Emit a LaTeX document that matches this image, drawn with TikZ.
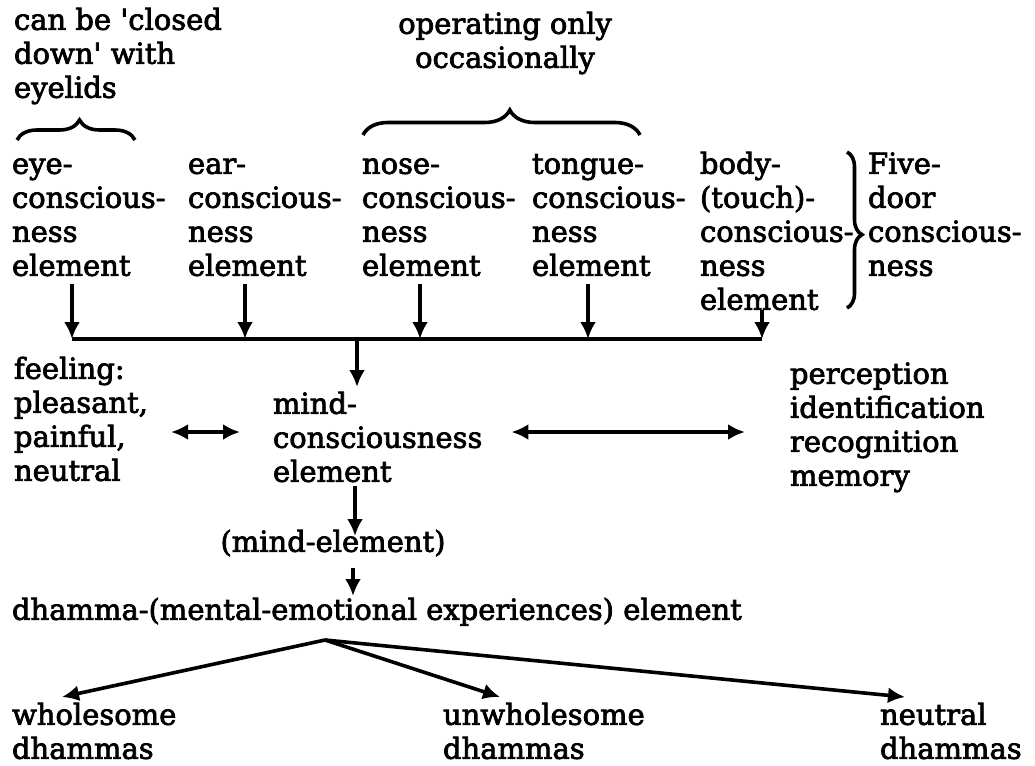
\documentclass[tikz,border=0pt]{standalone}
\usepackage{fontspec}
\setmainfont{DejaVu Serif}
\newfontfamily\diagfont{DejaVu Serif}[FakeBold=2.5]
\usetikzlibrary{arrows.meta,decorations.pathreplacing}
\begin{document}
\begin{tikzpicture}[x=1pt,y=-1pt,
  txt/.style={font=\diagfont\fontsize{29}{34}\selectfont, inner sep=0pt, outer sep=0pt, align=left, anchor=north west},
  ctxt/.style={txt, align=center, anchor=north},
  arr/.style={line width=3.6pt, -{Latex[length=17pt,width=16pt]}},
  dbl/.style={line width=3.6pt, {Latex[length=17pt,width=16pt]}-{Latex[length=17pt,width=16pt]}},
  busline/.style={line width=3.2pt},
  bracedeco/.style={line width=3.6pt, decorate, decoration={brace, amplitude=#1, aspect=0.53}}
]
\useasboundingbox (0,0) rectangle (1035,765);
\fill[white] (0,0) rectangle (1035,765);

% top annotations
\node[txt] (closed) at (14,6) {\strut can be \textquotesingle closed\\down\textquotesingle{} with\\eyelids};
\node[ctxt] (occas) at (505,10) {\strut operating only\\occasionally};
\draw[bracedeco=20] (17,140) -- (135,140);
\draw[bracedeco=25] (363,135) -- (640,135);

% five door columns
\node[txt] (eye) at (12,150) {\strut eye-\\conscious-\\ness\\element};
\node[txt] (ear) at (188,150) {\strut ear-\\conscious-\\ness\\element};
\node[txt] (nose) at (362,150) {\strut nose-\\conscious-\\ness\\element};
\node[txt] (tongue) at (532,150) {\strut tongue-\\conscious-\\ness\\element};
\node[txt] (body) at (700,150) {\strut body-\\(touch)-\\conscious-\\ness\\element};
\draw[bracedeco=15] (847,152) -- (847,308);
\node[txt] (five) at (868,150) {\strut Five-\\door\\conscious-\\ness};

% bus
\coordinate (b1) at (72,339);
\coordinate (b2) at (245,339);
\coordinate (b3) at (420,339);
\coordinate (b4) at (588,339);
\coordinate (b5) at (762,339);
\coordinate (bc) at (357,339);
\draw[busline] (b1) -- (b5);
\draw[arr] ([yshift=-8pt]eye.south -| b1) -- (b1);
\draw[arr] ([yshift=-8pt]ear.south -| b2) -- (b2);
\draw[arr] ([yshift=-8pt]nose.south -| b3) -- (b3);
\draw[arr] ([yshift=-8pt]tongue.south -| b4) -- (b4);
\draw[arr] (body.south -| b5) -- (b5);

% middle row
\node[txt] (feel) at (14,355) {\strut feeling:\\pleasant,\\painful,\\neutral};
\node[txt] (mind) at (273,390) {\strut mind-\\consciousness\\element};
\node[txt] (perc) at (790,360) {\strut perception\\identification\\recognition\\memory};
\draw[arr] (bc) -- ([yshift=3pt]mind.north -| bc);
\coordinate (dy) at (0,432);
\draw[dbl] ([xshift=23pt]feel.east |- dy) -- ([xshift=-33pt]mind.west |- dy);
\draw[dbl] ([xshift=29pt]mind.east |- dy) -- ([xshift=-45pt]perc.west |- dy);

% lower chain
\node[ctxt] (mindel) at (333,528) {\strut (mind-element)};
\node[txt] (dhamma) at (12,596) {\strut dhamma-(mental-emotional experiences) element};
\coordinate (ax1) at (355,0);
\coordinate (ax2) at (353,0);
\draw[arr] ([yshift=-4pt]mind.south -| ax1) -- ([yshift=-8pt]mindel.north -| ax1);
\draw[arr] ([yshift=-6pt]mindel.south -| ax2) -- (dhamma.north -| ax2);

% bottom
\node[txt] (whole) at (12,701) {\strut wholesome\\dhammas};
\node[txt] (unwh) at (443,701) {\strut unwholesome\\dhammas};
\node[txt] (neut) at (880,701) {\strut neutral\\dhammas};
\coordinate (src) at (325,640);
\draw[arr] (src) -- ([yshift=4pt]whole.north -| 62,0);
\draw[arr] (src) -- ([yshift=4pt]unwh.north -| 500,0);
\draw[arr] (src) -- ([yshift=4pt]neut.north -| 905,0);
\end{tikzpicture}
\end{document}
